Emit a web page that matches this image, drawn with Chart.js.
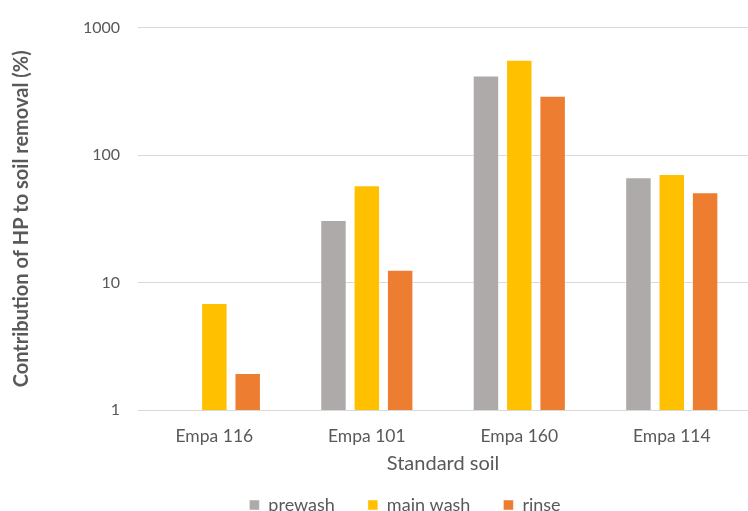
<!DOCTYPE html>
<html lang="en">
<head>
  <meta charset="UTF-8">
  <title>Contribution of HP to soil removal</title>
  <style>
    body { margin: 0; background: #ffffff; }
    .chart-container { width: 748px; height: 511px; }
  </style>
</head>
<body>
  <div class="chart-container">
    <canvas id="soilChart"></canvas>
  </div>

  <script src="https://cdn.jsdelivr.net/npm/chart.js"></script>
  <script>
    // Values (log scale, %)
    const soils = ['Empa 116', 'Empa 101', 'Empa 160', 'Empa 114'];
    const prewash = [null, 31, 420, 67];
    const mainWash = [6.9, 58, 560, 71];
    const rinse = [1.95, 12.6, 292, 51];
    const yTicks = [1, 10, 100, 1000];

    const tickColor = '#595959';
    const gridColor = '#d9d9d9';

    function series(label, data, color) {
      return {
        label: label,
        data: data,
        backgroundColor: color,
        borderColor: 'rgba(255,255,255,0.45)',
        borderWidth: 1,
        categoryPercentage: 0.656,
        barPercentage: 0.794,
      };
    }

    // the original legend sits a little right of centre
    const nudgeLegend = {
      id: 'nudgeLegend',
      afterLayout(chart) {
        chart.legend.left += 20;
        chart.legend.right += 20;
      },
    };

    const ctx = document.getElementById('soilChart').getContext('2d');
    new Chart(ctx, {
      type: 'bar',
      data: {
        labels: soils,
        datasets: [
          series('prewash', prewash, '#aeaaaa'),
          series('main wash', mainWash, '#ffc000'),
          series('rinse', rinse, '#ed7d31'),
        ],
      },
      options: {
        responsive: true,
        maintainAspectRatio: false,
        animation: false,
        layout: { padding: { top: 8, right: -12, left: 10, bottom: -13 } },
        plugins: {
          legend: {
            position: 'bottom',
            labels: {
              boxWidth: 10,
              boxHeight: 10,
              padding: 33,
              color: tickColor,
              font: { family: 'Lato', size: 18 },
            },
          },
          tooltip: { enabled: false },
        },
        scales: {
          x: {
            grid: { display: false },
            border: { color: gridColor },
            ticks: {
              color: tickColor,
              padding: 8,
              font: { family: 'Lato', size: 17.5 },
            },
            title: {
              display: true,
              text: 'Standard soil',
              color: tickColor,
              font: { family: 'Lato', size: 20 },
              padding: { top: -3, bottom: -13 },
            },
          },
          y: {
            type: 'logarithmic',
            min: 1,
            max: 1000,
            afterBuildTicks: (axis) => {
              axis.ticks = yTicks.map((v) => ({ value: v }));
            },
            grid: { color: gridColor, drawTicks: false },
            border: { display: false },
            ticks: {
              color: tickColor,
              padding: 18,
              font: { family: 'Lato', size: 16 },
              callback: (value) => String(value),
            },
            title: {
              display: true,
              text: 'Contribution of HP to soil removal (%)',
              color: tickColor,
              font: { family: 'Lato', size: 20, weight: 'bold' },
              padding: { top: 0, bottom: 31 },
            },
          },
        },
      },
      plugins: [nudgeLegend],
    });
  </script>
</body>
</html>
